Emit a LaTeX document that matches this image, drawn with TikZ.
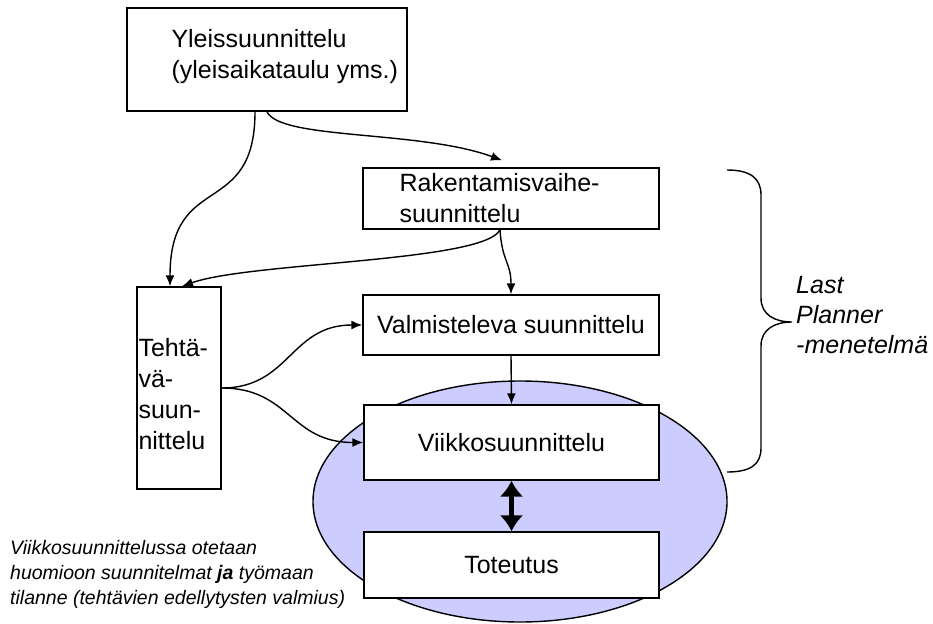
\documentclass[tikz,border=0pt]{standalone}
\usepackage{fontspec}
\setmainfont{Liberation Sans}
\usetikzlibrary{arrows.meta,positioning}
\definecolor{ellfill}{RGB}{204,204,255}
\begin{document}
\begin{tikzpicture}[x=1pt,y=-1pt,
  box/.style={draw,line width=1.4pt,fill=white,inner sep=0pt,font=\fontsize{25}{31}\selectfont},
  boxtxt/.style={font=\fontsize{25}{31}\selectfont,align=left,inner sep=0pt,anchor=west},
  conn/.style={line width=1.4pt,-{Latex[length=11pt,width=9pt]}},
  note/.style={font=\fontsize{19.5}{25}\selectfont\itshape,align=left,inner sep=0pt,anchor=west}]
\useasboundingbox (0,0) rectangle (933,623);

% ellipse behind the weekly level
\draw [fill=ellfill, line width=1.4pt] (520,501.5) circle [x radius=207, y radius=120.5];

\node [box, minimum width=280pt, minimum height=103pt] (yleis) at (267,59.5) {};
\node [boxtxt] (yleistxt) at ([xshift=45pt,yshift=3pt]yleis.west) {Yleissuunnittelu\\(yleisaikataulu yms.)};

\node [box, minimum width=296pt, minimum height=61pt] (rakent) at (511,198.5) {};
\node [boxtxt] (rakenttxt) at ([xshift=37pt]rakent.west) {Rakentamisvaihe-\\suunnittelu};

\node [box, minimum width=296pt, minimum height=60pt] (valm) at (511,325) {Valmisteleva suunnittelu};

\node [box, minimum width=84pt, minimum height=202pt] (tehta) at (179,388) {};
\node [boxtxt] (tehtatxt) at ([xshift=2pt,yshift=-6pt]tehta.west) {Tehtä-\\vä-\\suun-\\nittelu};

\node [box, minimum width=295pt, minimum height=75pt] (viikko) at (511.5,442.5) {Viikkosuunnittelu};
\node [box, minimum width=295pt, minimum height=66pt] (toteutus) at (511.5,565) {Toteutus};

% connectors
\draw [conn] ([xshift=-12pt]yleis.south) .. controls (255,220) and (170,170) .. ([xshift=-9pt]tehta.north);
\draw [conn] (yleis.south) .. controls (280,140) and (420,130) .. ([xshift=-9pt,yshift=7pt]rakent.north);
\draw [conn] ([xshift=-11pt]rakent.south) .. controls (485,262) and (250,262) .. ([xshift=3pt]tehta.north);
\draw [conn] ([xshift=-11pt]rakent.south) .. controls (502,262) and (511,262) .. (valm.north);
\draw [conn] (tehta.east) .. controls (290,388) and (290,325) .. (valm.west);
\draw [conn] (tehta.east) .. controls (290,388) and (290,442.5) .. (viikko.west);
\draw [conn] (valm.south) -- (viikko.north);
\draw [line width=4.5pt, {Latex[length=16pt,width=24pt]}-{Latex[length=16pt,width=24pt]}] (viikko.south) -- (toteutus.north);

% brace
\draw [line width=1.4pt] (727,170) .. controls (750,170) and (761,178) .. (761,195) -- (761,298)
  .. controls (761,315) and (775,322) .. (792,322) .. controls (775,322) and (761,329) .. (761,346)
  -- (761,448) .. controls (761,465) and (750,472) .. (727,472);
\node [boxtxt, font=\fontsize{25}{30}\selectfont\itshape] (lastpl) at (796,315) {Last\\Planner\\-menetelmä};

\node [note] (huom) at (10,574) {Viikkosuunnittelussa otetaan\\huomioon suunnitelmat {\bfseries ja} työmaan\\tilanne (tehtävien edellytysten valmius)};

\end{tikzpicture}
\end{document}
